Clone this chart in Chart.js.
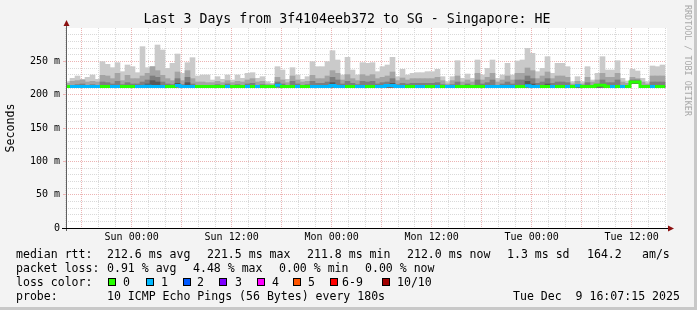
<!DOCTYPE html>
<html>
<head>
<meta charset="utf-8">
<title>Last 3 Days from 3f4104eeb372 to SG - Singapore: HE</title>
<script src="https://cdn.jsdelivr.net/npm/chart.js@4.4.1/dist/chart.umd.min.js"></script>
<style>
  html, body { margin: 0; padding: 0; background: #f3f3f3; }
  #graph { position: relative; width: 697px; height: 310px; background: #f3f3f3; overflow: hidden;
           font-family: "DejaVu Sans Mono", monospace; color: #000; }
  #graph canvas { position: absolute; left: 0; top: 0; }
  #edgeR { position: absolute; left: 694px; top: 0; width: 3px; height: 310px; background: #c8c8c8; }
  #edgeB { position: absolute; left: 0; top: 307px; width: 697px; height: 3px; background: #c8c8c8; }
  #title { position: absolute; left: 0; width: 694px; top: 11px; text-align: center; font-size: 13.25px; line-height: 16px; white-space: pre; }
  #credit { position: absolute; left: 682px; top: 5px; writing-mode: vertical-rl; font-size: 8.4px; line-height: 12px; color: #a8a8a8; white-space: pre; }
  .t { position: absolute; white-space: pre; font-size: 11.55px; line-height: 14px; }
  .box { position: absolute; width: 8px; height: 8px; box-sizing: border-box; border: 1px solid #000; }
</style>
</head>
<body>
<div id="graph">
  <canvas id="smoke" width="697" height="310"></canvas>
  <div id="title">Last 3 Days from 3f4104eeb372 to SG - Singapore: HE</div>
  <div id="credit">RRDTOOL / TOBI OETIKER</div>
  <div id="legend"></div>
  <div id="edgeR"></div>
  <div id="edgeB"></div>
</div>
<script>
// RRD consolidation: 36 minute bins, hours counted from the left edge of the graph
const binHours = 0.6;
const firstBinStart = -0.12;

// Time axis
const xTickHours = [7.88, 19.88, 31.88, 43.88, 55.88, 67.88];
const xTickLabels = ["Sun 00:00", "Sun 12:00", "Mon 00:00", "Mon 12:00", "Tue 00:00", "Tue 12:00"];
const xGridMajor = [1.88, 7.88, 13.88, 19.88, 25.88, 31.88, 37.88, 43.88, 49.88, 55.88, 61.88, 67.88];

// Value axis (ms)
const yTickValues = [0, 50, 100, 150, 200, 250];
const yTickLabels = ["0", "50 m", "100 m", "150 m", "200 m", "250 m"];

// Smoke: lowest ping, then upper edges of the smoke bands (ms)
const minRtt = [
  211.0, 211.0, 211.1, 211.0, 211.0, 211.1, 211.0, 211.2, 211.1, 211.0, 211.2, 211.0, 211.1, 211.0, 211.0,
  211.2, 211.1, 211.2, 211.3, 211.2, 211.0, 211.0, 211.4, 211.0, 211.2, 211.1, 211.0, 211.0, 211.0, 211.0,
  211.0, 211.0, 211.0, 211.0, 211.0, 211.0, 211.0, 211.1, 211.0, 211.0, 211.0, 211.0, 211.4, 211.0, 211.1,
  211.0, 211.0, 211.0, 211.0, 211.1, 211.0, 211.0, 211.1, 211.3, 211.2, 211.0, 211.2, 211.1, 211.0, 211.1,
  211.1, 211.1, 211.0, 211.0, 211.1, 211.2, 211.0, 211.0, 211.0, 211.0, 211.0, 211.0, 211.0, 211.0, 211.0,
  211.0, 211.0, 211.0, 211.1, 211.0, 211.0, 211.0, 211.1, 211.0, 211.1, 211.2, 211.0, 211.0, 211.1, 211.0,
  211.1, 211.2, 211.3, 211.2, 211.0, 211.1, 211.2, 211.0, 211.1, 211.1, 211.0, 211.0, 211.0, 211.0, 211.0,
  211.0, 211.0, 211.2, 211.0, 211.0, 211.1, 211.0, 211.0, 217.0, 217.0, 211.0, 211.0, 211.0, 211.0, 211.0
];
const maxRtt = [
  219.5, 224.5, 228.0, 223.0, 226.0, 229.5, 223.0, 249.5, 245.5, 240.5, 248.0, 234.5, 244.5, 242.0, 233.0,
  272.0, 240.5, 242.0, 274.5, 267.0, 239.5, 247.0, 261.0, 232.0, 248.0, 255.5, 228.0, 229.5, 229.5, 222.0,
  227.0, 223.0, 229.5, 222.0, 229.5, 224.5, 232.0, 233.0, 224.5, 227.0, 219.5, 217.0, 242.0, 237.0, 223.0,
  240.5, 229.5, 223.0, 227.0, 249.5, 242.0, 242.0, 249.5, 266.0, 252.0, 229.5, 256.0, 237.0, 229.5, 248.0,
  247.0, 248.0, 234.5, 242.0, 244.5, 256.0, 227.0, 238.0, 229.5, 232.0, 233.0, 233.0, 234.5, 234.5, 238.0,
  227.0, 219.5, 227.0, 251.0, 224.5, 231.0, 224.5, 252.0, 229.5, 239.5, 252.0, 224.5, 229.5, 247.0, 229.5,
  250.5, 252.0, 269.5, 262.0, 234.5, 239.5, 257.0, 232.0, 247.0, 247.0, 242.0, 219.5, 227.0, 219.5, 242.0,
  222.0, 232.0, 257.0, 237.0, 237.0, 251.0, 224.5, 220.5, 238.0, 235.5, 224.5, 219.5, 243.0, 242.0, 244.5
];
const p9Rtt = [
  217, 220, 221, 222, 219, 220, 219, 229, 228, 224, 232, 221, 229, 224, 224,
  228, 232, 242, 236, 229, 224, 221, 234, 221, 236, 224, 219, 219, 218, 218,
  220, 218, 221, 218, 220, 219, 222, 224, 219, 220, 216, 215, 226, 222, 218,
  228, 222, 219, 220, 229, 224, 224, 228, 236, 232, 222, 230, 224, 221, 230,
  228, 230, 224, 226, 228, 234, 221, 225, 222, 224, 224, 224, 224, 224, 226,
  221, 216, 221, 228, 219, 222, 219, 232, 222, 226, 232, 219, 222, 228, 222,
  232, 232, 240, 236, 224, 228, 234, 224, 228, 228, 226, 216, 220, 216, 226,
  219, 222, 232, 226, 226, 232, 219, 217, 226, 224, 219, 216, 228, 228, 228
];
const p8Rtt = [
  213, 214, 215, 216, 214, 215, 214, 219, 218, 216, 220, 215, 218, 216, 216,
  219, 222, 228, 226, 219, 216, 215, 224, 215, 226, 216, 214, 214, 214, 214,
  215, 214, 216, 214, 215, 214, 216, 217, 214, 215, 213, 213, 219, 216, 214,
  220, 216, 214, 215, 220, 217, 217, 219, 226, 222, 216, 220, 217, 215, 220,
  219, 220, 216, 218, 219, 224, 215, 217, 216, 217, 217, 217, 217, 217, 218,
  215, 213, 215, 219, 214, 216, 214, 222, 216, 218, 222, 214, 216, 219, 216,
  222, 222, 228, 224, 217, 219, 224, 217, 219, 219, 218, 213, 215, 213, 218,
  214, 216, 222, 218, 218, 222, 214, 213, 222, 222, 214, 213, 219, 219, 219
];
const p7Rtt = [
  212, 212, 212, 212, 212, 212, 212, 213, 213, 212, 213, 212, 212, 212, 212,
  213, 216, 221, 219, 213, 212, 212, 217, 212, 218, 212, 212, 212, 212, 212,
  212, 212, 212, 212, 212, 212, 212, 212, 212, 212, 212, 212, 216, 212, 212,
  213, 212, 212, 212, 213, 212, 212, 213, 218, 214, 212, 213, 212, 212, 213,
  213, 213, 212, 213, 213, 217, 212, 212, 212, 212, 212, 212, 212, 212, 213,
  212, 212, 212, 213, 212, 212, 212, 214, 212, 213, 214, 212, 212, 213, 212,
  214, 214, 220, 216, 212, 213, 216, 212, 213, 213, 213, 212, 212, 212, 213,
  212, 212, 214, 213, 213, 214, 212, 212, 219, 219, 212, 212, 213, 213, 213
];

// Median RTT (ms) and lost pings out of 10 per bin
const medianRtt = [
  212.2, 212.3, 212.3, 212.3, 212.3, 212.3, 212.3, 212.2, 212.2, 212.4, 212.4, 212.2, 212.2, 212.3, 212.3,
  212.4, 212.5, 212.4, 212.4, 212.3, 212.2, 212.2, 213.8, 212.4, 212.4, 212.4, 212.2, 212.2, 212.2, 212.2,
  212.2, 212.2, 212.4, 212.2, 212.2, 212.2, 212.4, 212.2, 212.4, 212.2, 212.2, 212.2, 214.0, 212.2, 212.2,
  212.2, 212.4, 212.2, 212.2, 212.4, 212.4, 212.4, 212.4, 213.8, 212.4, 212.4, 212.2, 212.2, 212.4, 212.4,
  212.2, 212.2, 212.4, 212.4, 213.8, 213.8, 212.4, 212.4, 212.2, 212.2, 212.4, 212.4, 212.2, 212.2, 212.4,
  212.2, 212.4, 212.4, 212.2, 212.2, 212.2, 212.2, 212.2, 212.2, 212.4, 212.4, 212.4, 212.4, 212.4, 212.4,
  212.2, 212.2, 213.5, 212.4, 212.4, 212.2, 212.2, 212.4, 212.2, 212.2, 212.4, 212.2, 213.5, 212.2, 212.2,
  212.2, 214.0, 214.0, 212.2, 212.4, 212.2, 212.4, 212.2, 219.0, 219.0, 212.2, 212.2, 212.4, 212.2, 212.2
];
const lossCount = [
  0, 1, 1, 1, 1, 1, 1, 0, 0, 1, 1, 0, 0, 0, 1,
  1, 1, 1, 1, 1, 0, 0, 1, 1, 1, 1, 0, 0, 0, 0,
  0, 0, 1, 0, 0, 0, 1, 0, 1, 0, 0, 0, 1, 0, 0,
  0, 1, 0, 0, 1, 1, 1, 1, 1, 1, 1, 0, 0, 1, 1,
  0, 0, 1, 1, 1, 1, 1, 1, 0, 0, 1, 1, 0, 0, 1,
  0, 1, 1, 0, 0, 0, 0, 0, 0, 1, 1, 1, 1, 1, 1,
  0, 0, 1, 1, 1, 0, 0, 1, 0, 0, 1, 0, 1, 0, 0,
  0, 0, 0, 0, 1, 0, 1, 0, 0, 0, 0, 0, 1, 0, 0
];

// Loss legend
const lossLabels = ["0", "1", "2", "3", "4", "5", "6-9", "10/10"];
const lossColors = ["#26ff00", "#00b8ff", "#0059ff", "#7e00ff", "#ff00ff", "#ff5500", "#ff0000", "#a10000"];
const lossBoxX = [108, 146, 183, 219, 257, 293, 330, 382];
const lossTextX = [123, 161, 197, 235, 272, 308, 342, 397];

const smokeGrays = ["#cacaca", "#a4a4a4", "#7e7e7e", "#585858"];

function lossColor(n) {
    if (n >= 10) return lossColors[7];
    if (n >= 6) return lossColors[6];
    return lossColors[n];
}

function binCentre(k) { return firstBinStart + binHours * (k + 0.5); }
function binStart(k) { return firstBinStart + binHours * k; }

function smokeBand(top, color, order) {
    return {
        type: "bar",
        data: top.map((v, k) => ({ x: binCentre(k), y: [minRtt[k], v] })),
        backgroundColor: color,
        borderWidth: 0,
        barThickness: 5,
        grouped: false,
        order: order
    };
}

const medianPoints = medianRtt.map((v, k) => ({ x: binStart(k), y: v }));
medianPoints.push({ x: binStart(medianRtt.length), y: medianRtt[medianRtt.length - 1] });

const font = { family: "DejaVu Sans Mono", size: 10 };
const majorGrid = "#ecb4b4";
const minorGrid = "#d9d9d9";

// white plot area, axis lines and arrows
const frame = {
    id: "frame",
    beforeDraw(chart) {
        const { ctx, chartArea: a } = chart;
        ctx.save();
        ctx.fillStyle = "#ffffff";
        ctx.fillRect(a.left, a.top, a.right - a.left + 1, a.bottom - a.top);
        ctx.restore();
    },
    afterDraw(chart) {
        const { ctx, chartArea: a } = chart;
        ctx.save();
        ctx.strokeStyle = "#606060";
        ctx.lineWidth = 1;
        ctx.beginPath();
        ctx.moveTo(a.left + 0.5, a.bottom + 3);
        ctx.lineTo(a.left + 0.5, a.top - 4);
        ctx.stroke();
        ctx.strokeStyle = "#000000";
        ctx.beginPath();
        ctx.moveTo(a.left - 4, a.bottom + 0.5);
        ctx.lineTo(a.right + 4, a.bottom + 0.5);
        ctx.stroke();
        ctx.fillStyle = "#8b1010";
        ctx.beginPath();
        ctx.moveTo(a.left + 0.5, a.top - 8);
        ctx.lineTo(a.left - 2.5, a.top - 2);
        ctx.lineTo(a.left + 3.5, a.top - 2);
        ctx.closePath();
        ctx.fill();
        ctx.beginPath();
        ctx.moveTo(a.right + 8, a.bottom + 0.5);
        ctx.lineTo(a.right + 2, a.bottom - 2.5);
        ctx.lineTo(a.right + 2, a.bottom + 3.5);
        ctx.closePath();
        ctx.fill();
        ctx.restore();
    }
};

new Chart(document.getElementById("smoke"), {
    type: "bar",
    data: {
        datasets: [
            {
                type: "line",
                data: medianPoints,
                stepped: true,
                borderWidth: 3,
                borderColor: lossColors[0],
                borderCapStyle: "butt",
                borderJoinStyle: "miter",
                pointRadius: 0,
                fill: false,
                order: 0,
                segment: { borderColor: c => lossColor(lossCount[c.p0DataIndex] ?? 0) }
            },
            smokeBand(p7Rtt, smokeGrays[3], 1),
            smokeBand(p8Rtt, smokeGrays[2], 2),
            smokeBand(p9Rtt, smokeGrays[1], 3),
            smokeBand(maxRtt, smokeGrays[0], 4)
        ]
    },
    options: {
        responsive: false,
        animation: false,
        events: [],
        layout: { padding: { left: 0, top: 28, right: 31, bottom: 0 } },
        plugins: { legend: { display: false }, tooltip: { enabled: false }, title: { display: false } },
        scales: {
            x: {
                type: "linear", min: 0, max: 72, position: "bottom", offset: false,
                afterBuildTicks: s => { s.ticks = xGridMajor.map(v => ({ value: v })); },
                afterFit: s => { s.height = 82; },
                grid: { color: majorGrid, drawTicks: false, offset: false },
                border: { display: false, dash: [1, 1] },
                ticks: {
                    autoSkip: false, maxRotation: 0, padding: 3, font: font, color: "#000",
                    callback: v => {
                        const i = xTickHours.findIndex(h => Math.abs(h - v) < 0.01);
                        return i < 0 ? "" : xTickLabels[i];
                    }
                }
            },
            xMinor: {
                type: "linear", min: 0, max: 72, position: "bottom", offset: false,
                afterBuildTicks: s => {
                    const t = [];
                    for (let h = -0.12; h < 72; h += 2) {
                        if (!xGridMajor.some(m => Math.abs(m - h) < 0.01)) t.push({ value: h });
                    }
                    s.ticks = t;
                },
                afterFit: s => { s.height = 0; },
                grid: { color: minorGrid, drawTicks: false, offset: false },
                border: { display: false, dash: [1, 1] },
                ticks: { display: false }
            },
            y: {
                type: "linear", min: 0, max: 300, position: "left",
                afterBuildTicks: s => { s.ticks = yTickValues.map(v => ({ value: v })); },
                afterFit: s => { s.width = 66; },
                grid: { color: majorGrid, drawTicks: true, tickLength: 3, tickColor: majorGrid },
                border: { display: false, dash: [1, 1] },
                ticks: {
                    padding: 3, font: font, color: "#000",
                    callback: v => yTickLabels[yTickValues.indexOf(v)]
                },
                title: {
                    display: true, text: "Seconds", color: "#000",
                    font: { family: "DejaVu Sans Mono", size: 11.6 }, padding: { top: 4, bottom: 0 }
                }
            },
            yMinor: {
                type: "linear", min: 0, max: 300, position: "left",
                afterBuildTicks: s => {
                    const t = [];
                    for (let v = 10; v < 300; v += 10) {
                        if (v % 50 !== 0) t.push({ value: v });
                    }
                    s.ticks = t;
                },
                afterFit: s => { s.width = 0; },
                grid: { color: minorGrid, drawTicks: false },
                border: { display: false, dash: [1, 1] },
                ticks: { display: false }
            }
        }
    },
    plugins: [frame]
});

// Legend block under the graph
const legend = document.getElementById("legend");
function put(text, x, y) {
    const d = document.createElement("div");
    d.className = "t";
    d.textContent = text;
    d.style.left = x + "px";
    d.style.top = y + "px";
    legend.appendChild(d);
}
const rowTop = [247, 261, 275, 289];
put("median rtt:", 16, rowTop[0]);
put("212.6 ms avg", 107, rowTop[0]);
put("221.5 ms max", 207, rowTop[0]);
put("211.8 ms min", 307, rowTop[0]);
put("212.0 ms now", 407, rowTop[0]);
put("1.3 ms sd", 507, rowTop[0]);
put("164.2", 587, rowTop[0]);
put("am/s", 642, rowTop[0]);
put("packet loss:", 16, rowTop[1]);
put("0.91 % avg", 107, rowTop[1]);
put("4.48 % max", 193, rowTop[1]);
put("0.00 % min", 279, rowTop[1]);
put("0.00 % now", 365, rowTop[1]);
put("loss color:", 16, rowTop[2]);
lossLabels.forEach((lab, i) => {
    const b = document.createElement("div");
    b.className = "box";
    b.style.left = lossBoxX[i] + "px";
    b.style.top = (rowTop[2] + 3) + "px";
    b.style.background = lossColors[i];
    legend.appendChild(b);
    put(lab, lossTextX[i], rowTop[2]);
});
put("probe:", 16, rowTop[3]);
put("10 ICMP Echo Pings (56 Bytes) every 180s", 107, rowTop[3]);
put("Tue Dec  9 16:07:15 2025", 513, rowTop[3]);
</script>
</body>
</html>
